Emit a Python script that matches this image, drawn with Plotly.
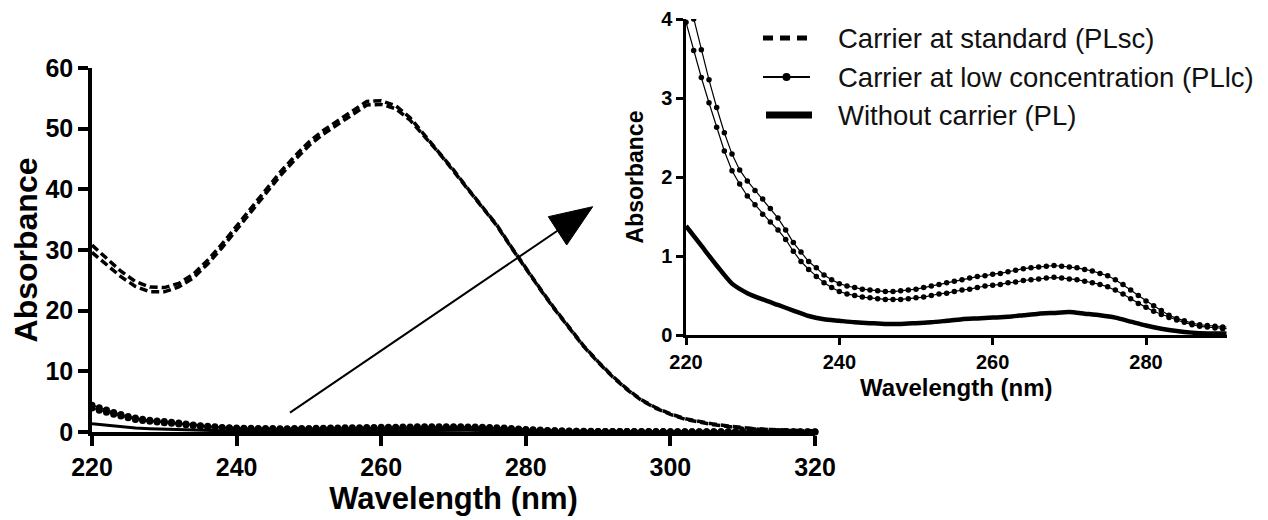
import plotly.graph_objects as go

# ---------------- data ----------------
wl_2nm = list(range(220, 322, 2))     # 220..320 every 2 nm
wl_1nm = list(range(220, 321))        # 220..320 every 1 nm

# Carrier at standard (PLsc) - two replicate scans (2 nm sampling)
plsc_a = [30.8, 28.6, 26.5, 24.8, 23.9, 23.8, 24.5, 26.0, 28.3, 31.0,
          33.9, 36.9, 39.9, 42.8, 45.4, 47.8, 49.7, 51.3, 52.9, 54.5,
          54.6, 53.8, 51.8, 49.0, 46.2, 43.2, 40.1, 37.2, 34.1, 30.5,
          27.0, 23.6, 20.3, 17.2, 14.2, 11.6, 9.2, 7.1, 5.3, 4.0,
          3.0, 2.2, 1.7, 1.3, 1.0, 0.7, 0.5, 0.4, 0.3, 0.2,
          0.2]
plsc_b = [29.6, 27.6, 25.6, 24.0, 23.1, 23.1, 23.9, 25.4, 27.7, 30.4,
          33.3, 36.3, 39.3, 42.2, 44.8, 47.2, 49.1, 50.7, 52.3, 53.9,
          54.0, 53.3, 51.4, 48.7, 46.0, 43.0, 40.0, 37.1, 34.0, 30.4,
          26.9, 23.5, 20.2, 17.1, 14.1, 11.5, 9.1, 7.0, 5.2, 3.9,
          2.9, 2.1, 1.6, 1.2, 0.9, 0.6, 0.5, 0.35, 0.25, 0.2,
          0.15]

# Carrier at low concentration (PLlc) - two replicate scans (1 nm sampling)
pllc_a = [4.40, 4.00, 3.61, 3.23, 2.88, 2.56, 2.29, 2.09, 1.95, 1.83,
          1.72, 1.60, 1.48, 1.33, 1.17, 1.05, 0.93, 0.85, 0.76, 0.70,
          0.65, 0.62, 0.60, 0.58, 0.57, 0.56, 0.55, 0.55, 0.56, 0.57,
          0.58, 0.60, 0.62, 0.64, 0.66, 0.68, 0.70, 0.72, 0.74, 0.75,
          0.77, 0.78, 0.80, 0.82, 0.84, 0.85, 0.86, 0.87, 0.88, 0.87,
          0.86, 0.85, 0.83, 0.81, 0.78, 0.75, 0.70, 0.64, 0.57, 0.50,
          0.43, 0.37, 0.31, 0.25, 0.21, 0.18, 0.15, 0.13, 0.12, 0.11,
          0.10, 0.10, 0.09, 0.09, 0.08, 0.08, 0.08, 0.07, 0.07, 0.07,
          0.06, 0.06, 0.06, 0.06, 0.05, 0.05, 0.05, 0.05, 0.05, 0.04,
          0.04, 0.04, 0.04, 0.04, 0.04, 0.03, 0.03, 0.03, 0.03, 0.03,
          0.03]
pllc_b = [3.96, 3.60, 3.26, 2.94, 2.63, 2.33, 2.08, 1.91, 1.76, 1.65,
          1.53, 1.43, 1.33, 1.21, 1.06, 0.93, 0.83, 0.74, 0.66, 0.60,
          0.55, 0.52, 0.50, 0.48, 0.47, 0.46, 0.45, 0.45, 0.45, 0.46,
          0.47, 0.48, 0.50, 0.52, 0.53, 0.55, 0.57, 0.58, 0.60, 0.62,
          0.63, 0.64, 0.66, 0.67, 0.69, 0.70, 0.71, 0.72, 0.73, 0.72,
          0.71, 0.70, 0.68, 0.66, 0.64, 0.61, 0.57, 0.52, 0.46, 0.40,
          0.35, 0.30, 0.26, 0.22, 0.19, 0.16, 0.13, 0.11, 0.10, 0.09,
          0.08, 0.08, 0.07, 0.07, 0.07, 0.06, 0.06, 0.06, 0.05, 0.05,
          0.05, 0.05, 0.04, 0.04, 0.04, 0.04, 0.04, 0.03, 0.03, 0.03,
          0.03, 0.03, 0.03, 0.03, 0.02, 0.02, 0.02, 0.02, 0.02, 0.02,
          0.02]

# Without carrier (PL) (2 nm sampling)
pl = [1.38, 1.13, 0.88, 0.65, 0.53, 0.45, 0.38, 0.31, 0.24, 0.20,
      0.18, 0.16, 0.15, 0.14, 0.14, 0.15, 0.16, 0.18, 0.20, 0.21,
      0.22, 0.23, 0.25, 0.27, 0.28, 0.29, 0.27, 0.25, 0.22, 0.17,
      0.12, 0.08, 0.05, 0.03, 0.02, 0.02, 0.01, 0.01, 0.01, 0.01,
      0.01, 0.01, 0.01, 0.01, 0.01, 0.01, 0.01, 0.01, 0.01, 0.01,
      0.01]

legend_labels = ["Carrier at standard (PLsc)",
                 "Carrier at low concentration (PLlc)",
                 "Without carrier (PL)"]
main_xticks = [220, 240, 260, 280, 300, 320]
inset_xticks = [220, 240, 260, 280]

# ---------------- figure ----------------
OFF = 8                     # page body margin of the browser
W, H = 1268 - OFF, 520 - OFF
FONT = "Liberation Sans, Arial, sans-serif"
BLK = "#000000"

def px(x):
    return (x - OFF) / W

def py(y):
    return 1 - (y - OFF) / H

fig = go.Figure()

# main panel
for ys in (plsc_a, plsc_b):
    fig.add_trace(go.Scatter(x=wl_2nm, y=ys, mode="lines", xaxis="x", yaxis="y",
                             line=dict(color=BLK, width=3.5, dash="8px,4px"),
                             showlegend=False, cliponaxis=False))
for ys in (pllc_a, pllc_b):
    fig.add_trace(go.Scatter(x=wl_1nm, y=ys, mode="lines+markers", xaxis="x", yaxis="y",
                             line=dict(color=BLK, width=1.5),
                             marker=dict(color=BLK, size=7),
                             showlegend=False, cliponaxis=False))
fig.add_trace(go.Scatter(x=wl_2nm, y=pl, mode="lines", xaxis="x", yaxis="y",
                         line=dict(color=BLK, width=3),
                         showlegend=False, cliponaxis=False))

# inset panel
for ys in (pllc_a, pllc_b):
    fig.add_trace(go.Scatter(x=wl_1nm, y=ys, mode="lines+markers", xaxis="x2", yaxis="y2",
                             line=dict(color=BLK, width=1.2),
                             marker=dict(color=BLK, size=5.5),
                             showlegend=False))
fig.add_trace(go.Scatter(x=wl_2nm, y=pl, mode="lines", xaxis="x2", yaxis="y2",
                         line=dict(color=BLK, width=4.5, shape="spline", smoothing=0.6),
                         showlegend=False))

main_x_dom = [px(92), px(815)]
main_y_dom = [py(432), py(68)]
ins_x_dom = [px(686), px(1226.5)]
ins_y_dom = [py(335), py(19)]

axis_common = dict(showgrid=False, zeroline=False, showline=True, linecolor=BLK,
                   ticks="outside", tickcolor=BLK, automargin=False)

fig.update_layout(
    width=W, height=H,
    margin=dict(l=0, r=0, t=0, b=0),
    paper_bgcolor="white", plot_bgcolor="rgba(0,0,0,0)",
    font=dict(family=FONT, color=BLK),
    showlegend=False,
    xaxis=dict(**axis_common, domain=main_x_dom, anchor="y", range=[220, 320],
               tickvals=main_xticks, linewidth=3.5, tickwidth=3.5, ticklen=10,
               tickfont=dict(family=FONT, size=25, weight="bold", color=BLK),
               title=dict(text="Wavelength (nm)", standoff=6,
                          font=dict(family=FONT, size=31, weight="bold", color=BLK))),
    yaxis=dict(**axis_common, domain=main_y_dom, anchor="x", range=[0, 60], dtick=10,
               linewidth=3.5, tickwidth=3.5, ticklen=10,
               tickfont=dict(family=FONT, size=25, weight="bold", color=BLK),
               title=dict(text="Absorbance", standoff=12,
                          font=dict(family=FONT, size=32, weight="bold", color=BLK))),
    xaxis2=dict(**axis_common, domain=ins_x_dom, anchor="y2", range=[220, 290.5],
                tickvals=inset_xticks, linewidth=2.5, tickwidth=2.5, ticklen=7,
                tickfont=dict(family=FONT, size=20, weight="bold", color=BLK),
                title=dict(text="Wavelength (nm)", standoff=8,
                           font=dict(family=FONT, size=24, weight="bold", color=BLK))),
    yaxis2=dict(**axis_common, domain=ins_y_dom, anchor="x2", range=[0, 4], dtick=1,
                linewidth=2.5, tickwidth=2.5, ticklen=7,
                tickfont=dict(family=FONT, size=20, weight="bold", color=BLK),
                title=dict(text="Absorbance", standoff=12,
                           font=dict(family=FONT, size=23, weight="bold", color=BLK))),
)

shapes = []
# arrow from the main panel's baseline towards the inset
shapes.append(dict(type="line", xref="paper", yref="paper",
                   x0=px(290), y0=py(412.7), x1=px(560), y1=py(229),
                   line=dict(color=BLK, width=2)))
shapes.append(dict(type="path", xref="paper", yref="paper",
                   path=f"M {px(592.7)},{py(206.7)} L {px(548.3)},{py(216.7)} L {px(566.7)},{py(245)} Z",
                   fillcolor=BLK, line=dict(color=BLK, width=1)))

# legend samples
rows_y = [38, 77, 115]
shapes.append(dict(type="line", xref="paper", yref="paper",
                   x0=px(763), y0=py(rows_y[0]), x1=px(810), y1=py(rows_y[0]),
                   line=dict(color=BLK, width=5, dash="10px,7px")))
shapes.append(dict(type="line", xref="paper", yref="paper",
                   x0=px(763), y0=py(rows_y[1]), x1=px(810), y1=py(rows_y[1]),
                   line=dict(color=BLK, width=2)))
shapes.append(dict(type="circle", xref="paper", yref="paper",
                   x0=px(782.5), x1=px(790.5), y0=py(rows_y[1] + 4), y1=py(rows_y[1] - 4),
                   fillcolor=BLK, line=dict(color=BLK, width=0)))
shapes.append(dict(type="line", xref="paper", yref="paper",
                   x0=px(766), y0=py(rows_y[2]), x1=px(812), y1=py(rows_y[2]),
                   line=dict(color=BLK, width=7)))
fig.update_layout(shapes=shapes)

annotations = []
for label, ry in zip(legend_labels, rows_y):
    annotations.append(dict(text=label, xref="paper", yref="paper",
                            x=px(836), y=py(ry), xanchor="left", yanchor="middle",
                            showarrow=False,
                            font=dict(family=FONT, size=27.5, color="#111111")))
fig.update_layout(annotations=annotations)

fig.write_html("out.html")
